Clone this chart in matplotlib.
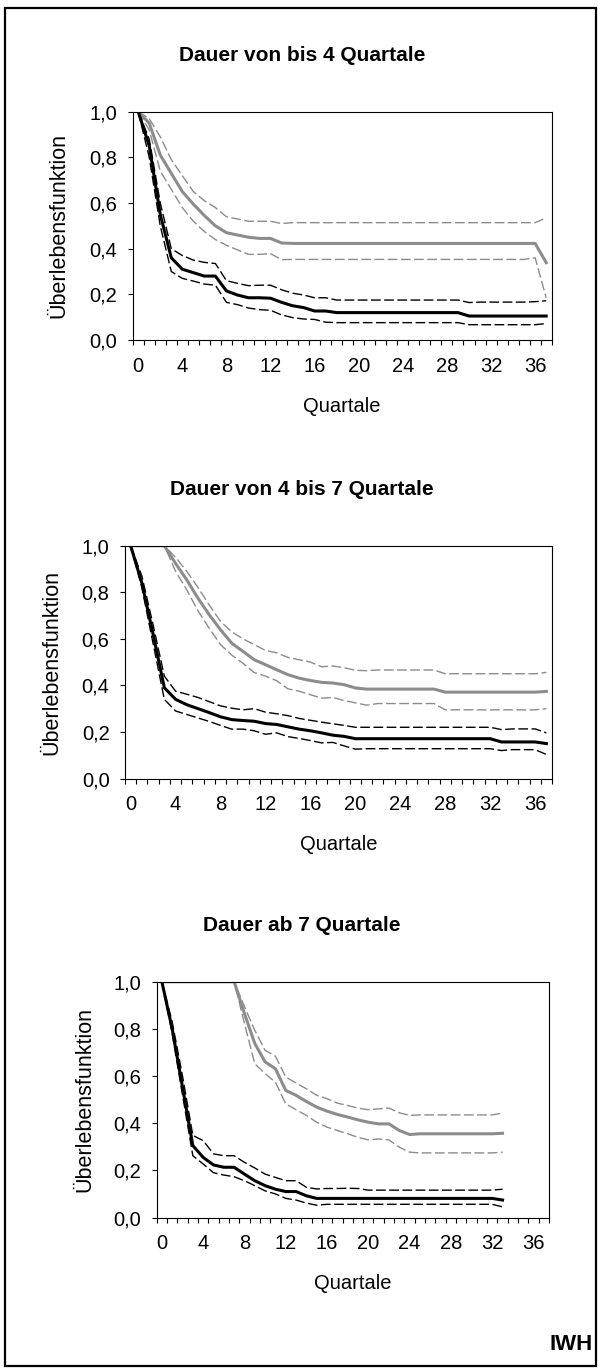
import numpy as np
import matplotlib.pyplot as plt
from matplotlib.patches import Rectangle

plt.rcParams['font.family'] = ['Liberation Sans', 'DejaVu Sans']

# survival curves, one value per quarter (0..37, panel 3 0..33)
p1_black = [1.0, 0.85, 0.55, 0.36, 0.31, 0.295, 0.28, 0.28, 0.215, 0.197, 0.185, 0.185, 0.183, 0.165, 0.15, 0.142, 0.127, 0.127,
            0.12, 0.12, 0.12, 0.12, 0.12, 0.12, 0.12, 0.12, 0.12, 0.12, 0.12, 0.12,
            0.105, 0.105, 0.105, 0.105, 0.105, 0.105, 0.105, 0.105]
p1_black_hi = [1.0, 0.88, 0.6, 0.40, 0.37, 0.35, 0.34, 0.335, 0.26, 0.248, 0.238, 0.24, 0.24, 0.22, 0.205, 0.197, 0.185, 0.185,
               0.175, 0.175, 0.175, 0.175, 0.175, 0.175, 0.175, 0.175, 0.175, 0.175, 0.175, 0.175,
               0.164, 0.166, 0.166, 0.166, 0.166, 0.166, 0.168, 0.172]
p1_black_lo = [1.0, 0.8, 0.5, 0.30, 0.27, 0.258, 0.245, 0.24, 0.165, 0.155, 0.14, 0.133, 0.13, 0.11, 0.098, 0.092, 0.09, 0.078,
               0.076, 0.076, 0.076, 0.076, 0.076, 0.076, 0.076, 0.076, 0.076, 0.076, 0.076, 0.076,
               0.067, 0.067, 0.067, 0.067, 0.067, 0.067, 0.067, 0.072]
p1_gray = [1.0, 0.95, 0.81, 0.73, 0.65, 0.595, 0.545, 0.50, 0.47, 0.46, 0.45, 0.445, 0.445, 0.425,
           0.423, 0.423, 0.423, 0.423, 0.423, 0.423, 0.423, 0.423, 0.423, 0.423, 0.423, 0.423,
           0.423, 0.423, 0.423, 0.423, 0.423, 0.423, 0.423, 0.423, 0.423, 0.423, 0.423, 0.339]
p1_gray_hi = [1.0, 0.97, 0.89, 0.79, 0.72, 0.65, 0.61, 0.58, 0.54, 0.53, 0.52, 0.52, 0.52, 0.51,
              0.514, 0.514, 0.514, 0.514, 0.514, 0.514, 0.514, 0.514, 0.514, 0.514, 0.514, 0.514,
              0.514, 0.514, 0.514, 0.514, 0.514, 0.514, 0.514, 0.514, 0.514, 0.514, 0.514, 0.535]
p1_gray_lo = [1.0, 0.92, 0.74, 0.66, 0.58, 0.52, 0.475, 0.44, 0.415, 0.395, 0.375, 0.375, 0.378, 0.352,
              0.353, 0.353, 0.353, 0.353, 0.353, 0.353, 0.353, 0.353, 0.353, 0.353, 0.353, 0.353,
              0.353, 0.353, 0.353, 0.353, 0.353, 0.353, 0.353, 0.353, 0.353, 0.353, 0.36, 0.185]

p2_black = [1.0, 0.84, 0.62, 0.39, 0.34, 0.317, 0.30, 0.283, 0.265, 0.253, 0.249, 0.246, 0.236, 0.232, 0.222, 0.212, 0.205, 0.196, 0.186, 0.181,
            0.171, 0.171, 0.171, 0.171, 0.171, 0.171, 0.171, 0.171, 0.171, 0.171, 0.171, 0.171, 0.171,
            0.157, 0.157, 0.157, 0.157, 0.150]
p2_black_hi = [1.0, 0.87, 0.66, 0.44, 0.375, 0.362, 0.348, 0.33, 0.312, 0.302, 0.295, 0.30, 0.285, 0.278, 0.27, 0.258, 0.25, 0.242, 0.235, 0.228,
               0.22, 0.22, 0.22, 0.22, 0.22, 0.22, 0.22, 0.22, 0.22, 0.22, 0.22, 0.22, 0.22,
               0.21, 0.213, 0.213, 0.213, 0.196]
p2_black_lo = [1.0, 0.82, 0.58, 0.34, 0.29, 0.275, 0.26, 0.245, 0.228, 0.212, 0.212, 0.205, 0.19, 0.196, 0.18, 0.172, 0.163, 0.153, 0.155, 0.14,
               0.126, 0.128, 0.128, 0.128, 0.128, 0.128, 0.128, 0.128, 0.128, 0.128, 0.128, 0.128, 0.128,
               0.12, 0.124, 0.124, 0.124, 0.103]
p2_gray = [1.0, 1.0, 1.0, 1.0, 0.924, 0.853, 0.774, 0.703, 0.639, 0.581, 0.546, 0.51, 0.489, 0.467, 0.446, 0.431, 0.421, 0.413, 0.41, 0.403, 0.389,
           0.384, 0.384, 0.384, 0.384, 0.384, 0.384, 0.384,
           0.371, 0.371, 0.371, 0.371, 0.371, 0.371, 0.371, 0.371, 0.371, 0.374]
p2_gray_hi = [1.0, 1.0, 1.0, 1.0, 0.95, 0.89, 0.82, 0.745, 0.675, 0.63, 0.6, 0.575, 0.55, 0.54, 0.52, 0.51, 0.5, 0.48, 0.483, 0.476, 0.465,
              0.463, 0.466, 0.466, 0.466, 0.466, 0.466, 0.466,
              0.45, 0.45, 0.45, 0.45, 0.45, 0.45, 0.45, 0.45, 0.45, 0.456]
p2_gray_lo = [1.0, 1.0, 1.0, 1.0, 0.89, 0.81, 0.72, 0.645, 0.575, 0.53, 0.495, 0.455, 0.44, 0.42, 0.385, 0.375, 0.36, 0.345, 0.348, 0.335, 0.325,
              0.315, 0.322, 0.322, 0.322, 0.322, 0.322, 0.322,
              0.295, 0.295, 0.295, 0.295, 0.295, 0.295, 0.295, 0.295, 0.295, 0.30]

p3_black = [1.0, 0.8, 0.553, 0.305, 0.255, 0.223, 0.213, 0.213, 0.184, 0.156, 0.135, 0.12, 0.11, 0.11, 0.092,
            0.081, 0.081, 0.081, 0.081, 0.081, 0.081, 0.081, 0.081, 0.081, 0.081, 0.081, 0.081, 0.081, 0.081, 0.081, 0.081, 0.081, 0.081,
            0.074]
p3_black_hi = [1.0, 0.83, 0.6, 0.348, 0.326, 0.27, 0.262, 0.262, 0.234, 0.21, 0.184, 0.17, 0.156, 0.156, 0.128, 0.121, 0.123, 0.123, 0.124, 0.123,
               0.116, 0.116, 0.116, 0.116, 0.116, 0.116, 0.116, 0.116, 0.116, 0.116, 0.116, 0.116, 0.116,
               0.12]
p3_black_lo = [1.0, 0.78, 0.52, 0.262, 0.227, 0.19, 0.18, 0.173, 0.156, 0.135, 0.113, 0.1, 0.081, 0.074, 0.061, 0.052,
               0.056, 0.056, 0.056, 0.056, 0.056, 0.056, 0.056, 0.056, 0.056, 0.056, 0.056, 0.056, 0.056, 0.056, 0.056, 0.056, 0.056,
               0.045]
p3_gray = [1.0, 1.0, 1.0, 1.0, 1.0, 1.0, 1.0, 1.0, 0.865, 0.738, 0.66, 0.631, 0.539, 0.518, 0.492, 0.468, 0.451, 0.437, 0.426, 0.414, 0.404,
           0.397, 0.397, 0.369, 0.352,
           0.355, 0.355, 0.355, 0.355, 0.355, 0.355, 0.355, 0.355, 0.357]
p3_gray_hi = [1.0, 1.0, 1.0, 1.0, 1.0, 1.0, 1.0, 1.0, 0.894, 0.794, 0.709, 0.684, 0.596, 0.57, 0.546, 0.518, 0.504, 0.485, 0.475, 0.464, 0.457,
              0.461, 0.464, 0.444, 0.433,
              0.435, 0.435, 0.435, 0.435, 0.435, 0.435, 0.435, 0.435, 0.443]
p3_gray_lo = [1.0, 1.0, 1.0, 1.0, 1.0, 1.0, 1.0, 1.0, 0.823, 0.652, 0.61, 0.574, 0.482, 0.457, 0.433, 0.404, 0.383, 0.369, 0.355, 0.34, 0.329,
              0.333, 0.329, 0.298, 0.277,
              0.274, 0.274, 0.274, 0.274, 0.274, 0.274, 0.274, 0.274, 0.277]

titles = ["Dauer von bis 4 Quartale", "Dauer von 4 bis 7 Quartale", "Dauer ab 7 Quartale"]
x_labels = [0, 4, 8, 12, 16, 20, 24, 28, 32, 36]
y_ticks = [0.0, 0.2, 0.4, 0.6, 0.8, 1.0]
y_labels = ["0,0", "0,2", "0,4", "0,6", "0,8", "1,0"]

W, H = 598, 1369
GRAY = '#8c8c8c'
fig = plt.figure(figsize=(W / 100, H / 100), dpi=100)


def ftext(x, y, s, **kw):
    fig.text(x / W, 1 - y / H, s, ha='center', va='center', **kw)


# pixel boxes: left, right, top, bottom, ylabel x
boxes = [(132.7, 551.7, 111.7, 340.0, 59),
         (125.0, 552.0, 545.7, 778.5, 52),
         (156.7, 549.0, 981.7, 1217.5, 85)]

panels = [(p1_black, p1_black_hi, p1_black_lo, p1_gray, p1_gray_hi, p1_gray_lo),
          (p2_black, p2_black_hi, p2_black_lo, p2_gray, p2_gray_hi, p2_gray_lo),
          (p3_black, p3_black_hi, p3_black_lo, p3_gray, p3_gray_hi, p3_gray_lo)]

ci_style = (0, (7, 2.5))
for (x0, x1, y0, y1, ylx), title, series in zip(boxes, titles, panels):
    ax = fig.add_axes([x0 / W, 1 - y1 / H, (x1 - x0) / W, (y1 - y0) / H])
    bk, bk_hi, bk_lo, gr, gr_hi, gr_lo = series
    x = np.arange(len(bk))
    ax.plot(x, gr_hi, color=GRAY, lw=1.0, ls=ci_style)
    ax.plot(x, gr_lo, color=GRAY, lw=1.0, ls=ci_style)
    ax.plot(x, gr, color=GRAY, lw=2.2, solid_joinstyle='round')
    ax.plot(x, bk_hi, color='k', lw=1.0, ls=ci_style)
    ax.plot(x, bk_lo, color='k', lw=1.0, ls=ci_style)
    ax.plot(x, bk, color='k', lw=2.2, solid_joinstyle='round')

    ax.set_xlim(-0.5, 37.5)
    ax.set_ylim(0, 1)
    ax.set_xticks(np.arange(-0.5, 38, 1))
    ax.set_xticklabels([])
    ax.set_xticks(x_labels, minor=True)
    ax.set_xticklabels([str(v) for v in x_labels], minor=True)
    ax.tick_params(axis='x', which='major', direction='out', length=3.6, width=0.8)
    ax.tick_params(axis='x', which='minor', length=0, pad=12, labelsize=14.5)
    ax.set_yticks(y_ticks)
    ax.set_yticklabels(y_labels)
    ax.tick_params(axis='y', direction='out', length=3.6, width=0.8, pad=7.5, labelsize=14.5)
    for s in ax.spines.values():
        s.set_linewidth(0.8)

    ftext(302, y0 - 56, title, fontsize=15, fontweight='bold')
    ftext((x0 + x1) / 2, y1 + 66, "Quartale", fontsize=14.5)
    ftext(ylx, (y0 + y1) / 2, "Überlebensfunktion", fontsize=15.5, rotation=90)

fig.text(593 / W, 1 - 1344 / H, "IWH", ha='right', va='center', fontsize=16, fontweight='bold')
fig.add_artist(Rectangle((5 / W, 1 - 1366 / H), 591 / W, 1358 / H, fill=False,
                         lw=1.6, edgecolor='k', transform=fig.transFigure))

fig.savefig('out.png', dpi=100)
